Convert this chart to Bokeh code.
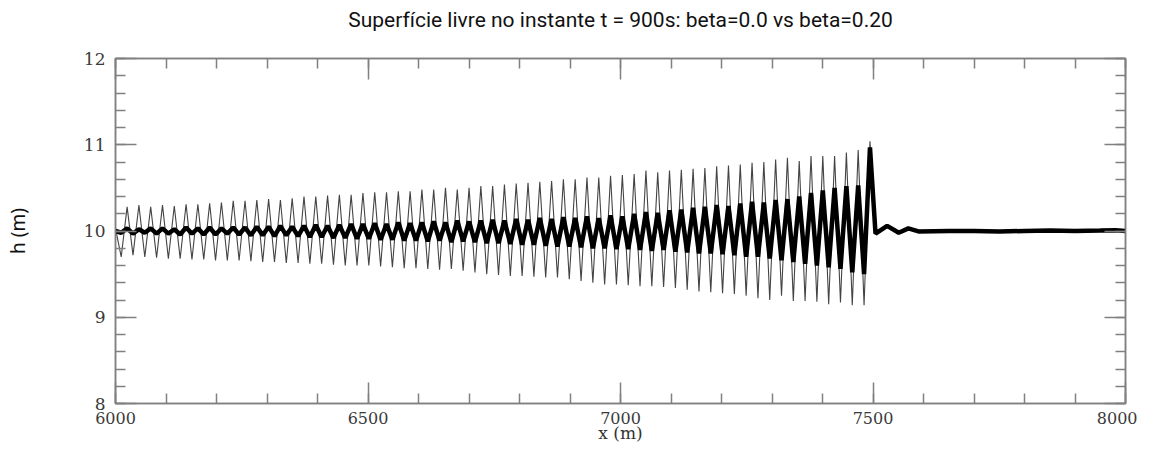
import numpy as np
from bokeh.plotting import figure
from bokeh.models import LinearAxis, SingleIntervalTicker, Range1d, Title
from bokeh.embed import file_html
from bokeh.resources import INLINE

# ---- data ----
# crest positions (m): 64 crests, regularly spaced between 6023 and 7494
peak_x = np.linspace(6023, 7494, 64)
half_wave = 11.7  # trough lies half a wavelength before each crest

# beta = 0.0 (thin line): crest and trough heights (m)
thin_peaks = [10.28, 10.30, 10.28, 10.30, 10.29, 10.31, 10.31, 10.32, 10.33, 10.35,
              10.35, 10.36, 10.37, 10.36, 10.38, 10.40, 10.40, 10.41, 10.42, 10.42,
              10.44, 10.45, 10.45, 10.46, 10.46, 10.48, 10.48, 10.50, 10.48, 10.50,
              10.52, 10.52, 10.54, 10.55, 10.56, 10.57, 10.58, 10.60, 10.60, 10.62,
              10.62, 10.64, 10.65, 10.66, 10.70, 10.68, 10.70, 10.71, 10.72, 10.73,
              10.75, 10.76, 10.77, 10.79, 10.80, 10.83, 10.85, 10.81, 10.87, 10.87,
              10.87, 10.91, 10.94, 11.04]
thin_troughs = [9.70, 9.72, 9.70, 9.69, 9.68, 9.68, 9.67, 9.67, 9.66, 9.66,
                9.66, 9.65, 9.64, 9.64, 9.63, 9.63, 9.62, 9.62, 9.61, 9.60,
                9.60, 9.60, 9.59, 9.58, 9.57, 9.57, 9.56, 9.55, 9.56, 9.54,
                9.52, 9.50, 9.49, 9.48, 9.48, 9.47, 9.46, 9.46, 9.44, 9.42,
                9.40, 9.38, 9.38, 9.37, 9.36, 9.36, 9.35, 9.34, 9.32, 9.30,
                9.29, 9.28, 9.27, 9.25, 9.22, 9.20, 9.25, 9.19, 9.19, 9.18,
                9.15, 9.17, 9.14, 9.14]

# beta = 0.20 (thick line): crest and trough heights (m)
thick_peaks = [10.03, 10.02, 10.03, 10.03, 10.02, 10.04, 10.03, 10.04, 10.03, 10.04,
               10.04, 10.05, 10.05, 10.06, 10.05, 10.06, 10.07, 10.06, 10.07, 10.08,
               10.08, 10.09, 10.08, 10.10, 10.09, 10.10, 10.11, 10.10, 10.12, 10.11,
               10.12, 10.13, 10.12, 10.14, 10.13, 10.15, 10.14, 10.16, 10.15, 10.17,
               10.15, 10.18, 10.17, 10.20, 10.22, 10.21, 10.24, 10.25, 10.27, 10.28,
               10.30, 10.29, 10.32, 10.34, 10.33, 10.36, 10.37, 10.40, 10.44, 10.47,
               10.50, 10.52, 10.53, 10.97]
thick_troughs = [9.98, 9.97, 9.98, 9.97, 9.97, 9.96, 9.97, 9.96, 9.96, 9.97,
                 9.96, 9.95, 9.95, 9.94, 9.95, 9.94, 9.93, 9.93, 9.92, 9.92,
                 9.91, 9.91, 9.90, 9.90, 9.89, 9.89, 9.88, 9.89, 9.87, 9.88,
                 9.87, 9.86, 9.86, 9.85, 9.84, 9.84, 9.83, 9.82, 9.82, 9.81,
                 9.80, 9.80, 9.79, 9.79, 9.78, 9.77, 9.78, 9.76, 9.75, 9.74,
                 9.74, 9.73, 9.72, 9.70, 9.70, 9.68, 9.66, 9.64, 9.62, 9.60,
                 9.58, 9.56, 9.52, 9.50]

# start point and undisturbed tail after the front (both runs)
start_x, thin_start_h, thick_start_h = 6000, 10.03, 10.0
tail_x = [7505, 7528, 7551, 7570, 7590, 7650, 7700, 7750, 7800, 7850, 7900, 7950, 7980, 8000]
tail_h = [9.97, 10.06, 9.98, 10.03, 9.995, 10.0, 10.0, 9.995, 10.0, 10.005, 10.0, 10.005, 10.01, 10.0]

x_ticks_interval = 500
y_ticks_interval = 1


def build(start_h, peaks, troughs):
    xs, ys = [start_x], [start_h]
    for px, pk, tr in zip(peak_x, peaks, troughs):
        xs += [px - half_wave, px]
        ys += [tr, pk]
    return xs + tail_x, ys + tail_h


thin_x, thin_y = build(thin_start_h, thin_peaks, thin_troughs)
thick_x, thick_y = build(thick_start_h, thick_peaks, thick_troughs)

# ---- figure ----
p = figure(width=1137, height=445, output_backend="svg", toolbar_location=None,
           x_range=Range1d(6000, 8000), y_range=Range1d(8, 12),
           min_border_left=115, min_border_right=12, min_border_top=58, min_border_bottom=40)
p.title = Title(text="Superfície livre no instante t = 900s: beta=0.0 vs beta=0.20",
                align="center", text_font="Roboto", text_font_size="21px",
                text_font_style="normal", text_color="#111", standoff=6)
p.grid.visible = False
p.outline_line_color = "#808080"
p.outline_line_width = 1.5
p.background_fill_color = "white"
p.border_fill_color = "white"

p.line(thin_x, thin_y, line_color="#444444", line_width=1.1)
p.line(thick_x, thick_y, line_color="black", line_width=4.5)

grey = "#808080"


def style(ax, labels=True):
    ax.axis_line_color = grey
    ax.axis_line_width = 1.5
    ax.major_tick_line_color = grey
    ax.minor_tick_line_color = grey
    ax.major_tick_line_width = 1.5
    ax.minor_tick_line_width = 1.5
    ax.major_tick_in = 21
    ax.major_tick_out = 0
    ax.minor_tick_in = 10
    ax.minor_tick_out = 0
    ax.major_label_text_font = "DejaVu Serif"
    ax.major_label_text_font_size = "17px"
    ax.major_label_text_color = "#3a3a3a"
    if not labels:
        ax.major_label_text_font_size = "0px"
        ax.major_label_text_color = None
        ax.major_label_standoff = 0


xax = p.xaxis[0]
xax.ticker = SingleIntervalTicker(interval=x_ticks_interval, num_minor_ticks=5)
style(xax)
xax.major_label_text_font_size = "16px"
xax.major_label_standoff = 8
xax.axis_label = "x (m)"
xax.axis_label_text_font = "DejaVu Serif"
xax.axis_label_text_font_size = "17px"
xax.axis_label_text_font_style = "normal"
xax.axis_label_text_color = "#333"
xax.axis_label_standoff = -4

yax = p.yaxis[0]
yax.ticker = SingleIntervalTicker(interval=y_ticks_interval, num_minor_ticks=5)
style(yax)
yax.major_label_standoff = 10
yax.major_label_orientation = "horizontal"
yax.axis_label = "h (m)"
yax.axis_label_text_font = "Noto Sans"
yax.axis_label_text_font_size = "19px"
yax.axis_label_text_font_style = "normal"
yax.axis_label_text_color = "#111"
yax.axis_label_standoff = 50

top = LinearAxis(ticker=SingleIntervalTicker(interval=x_ticks_interval, num_minor_ticks=5))
style(top, labels=False)
# a blank axis label keeps a gap between the title and the frame
top.axis_label = " "
top.axis_label_text_font_size = "16px"
top.axis_label_standoff = 4
p.add_layout(top, "above")
right = LinearAxis(ticker=SingleIntervalTicker(interval=y_ticks_interval, num_minor_ticks=5))
style(right, labels=False)
p.add_layout(right, "right")

open("out.html", "w").write(file_html(p, INLINE))
